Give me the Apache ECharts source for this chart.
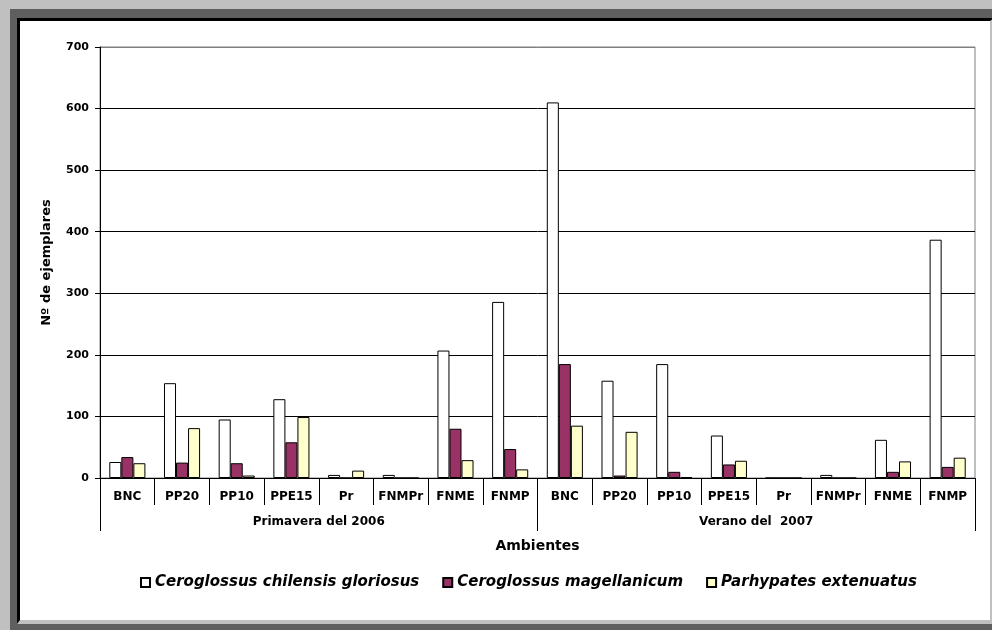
<!DOCTYPE html>
<html>
<head>
<meta charset="utf-8">
<script src="https://cdn.jsdelivr.net/npm/echarts@6/dist/echarts.min.js"></script>
<style>
  html, body { margin: 0; padding: 0; background: #fff; }
  #wrap { position: relative; width: 992px; height: 630px; overflow: hidden; background: #c0c0c0; }
  #outer { position: absolute; left: 10px; top: 9px; width: 1000px; height: 640px; background: #5f5f5f; }
  #inner { position: absolute; left: 17px; top: 18px; width: 970px; height: 599px; background: #fff;
           border-left: 3px solid #000; border-top: 3px solid #000;
           border-right: 4px solid #c0c0c0; border-bottom: 4px solid #c0c0c0; }
  #main { position: absolute; left: 0; top: 0; width: 992px; height: 630px; }
</style>
</head>
<body>
<div id="wrap">
  <div id="outer"></div>
  <div id="inner"></div>
  <div id="main"></div>
</div>
<script>
// sitios por temporada
var ambientes = ['BNC', 'PP20', 'PP10', 'PPE15', 'Pr', 'FNMPr', 'FNME', 'FNMP',
                 'BNC', 'PP20', 'PP10', 'PPE15', 'Pr', 'FNMPr', 'FNME', 'FNMP'];
var temporadas = ['Primavera del 2006', 'Verano del  2007'];
var especies = ['Ceroglossus chilensis gloriosus', 'Ceroglossus magellanicum', 'Parhypates extenuatus'];

var chilensis    = [26, 154, 95, 128, 5, 5, 207, 286, 610, 158, 185, 69, 0, 5, 62, 387];
var magellanicum = [34, 25, 24, 58, 0, 0, 80, 47, 185, 4, 10, 22, 0, 0, 10, 18];
var extenuatus   = [24, 81, 4, 99, 12, 0, 29, 14, 85, 75, 1.5, 28, 0, 0, 27, 33];

var colores = ['#ffffff', '#993366', '#ffffcc'];
var fuente = 'DejaVu Sans';

var myChart = echarts.init(document.getElementById('main'));

function serie(i, data) {
  return {
    name: especies[i],
    type: 'bar',
    xAxisIndex: 0,
    data: data,
    barGap: '0%',
    barCategoryGap: '34%',
    itemStyle: { color: colores[i], borderColor: '#000', borderWidth: 1 },
    animation: false
  };
}

var option = {
  backgroundColor: 'transparent',
  textStyle: { fontFamily: fuente, color: '#000' },
  grid: {
    left: 100, right: 17, top: 47, bottom: 152,
    show: true, borderColor: '#808080', borderWidth: 1
  },
  legend: {
    data: especies,
    left: 135,
    top: 570,
    icon: 'rect',
    itemWidth: 9,
    itemHeight: 9,
    itemGap: 23,
    textStyle: { fontFamily: fuente, fontSize: 15, fontWeight: 'bold', fontStyle: 'italic', color: '#000' }
  },
  xAxis: [
    {
      type: 'category',
      data: ambientes,
      position: 'bottom',
      boundaryGap: true,
      axisLine: { show: true, lineStyle: { color: '#000', width: 1 } },
      axisTick: { show: true, interval: 0, alignWithLabel: false, length: 27, lineStyle: { color: '#000', width: 1 } },
      axisLabel: { interval: 0, margin: 13, fontFamily: fuente, fontSize: 12, fontWeight: 'bold', color: '#000' }
    },
    {
      type: 'category',
      data: temporadas,
      position: 'bottom',
      boundaryGap: true,
      axisLine: { show: false },
      axisTick: { show: true, interval: 0, alignWithLabel: false, length: 53, lineStyle: { color: '#000', width: 1 } },
      axisLabel: { interval: 0, margin: 38, fontFamily: fuente, fontSize: 12, fontWeight: 'bold', color: '#000' },
      name: 'Ambientes',
      nameLocation: 'middle',
      nameGap: 61,
      nameTextStyle: { fontFamily: fuente, fontSize: 14, fontWeight: 'bold', color: '#000' }
    }
  ],
  yAxis: {
    type: 'value',
    min: 0,
    max: 700,
    interval: 100,
    name: 'Nº de ejemplares',
    nameLocation: 'middle',
    nameRotate: 90,
    nameGap: 47,
    nameTextStyle: { fontFamily: fuente, fontSize: 13, fontWeight: 'bold', color: '#000' },
    axisLine: { show: true, lineStyle: { color: '#000' } },
    axisTick: { show: true, length: 5, lineStyle: { color: '#000' } },
    axisLabel: { margin: 11, fontFamily: fuente, fontSize: 11, fontWeight: 'bold', color: '#000' },
    splitLine: { lineStyle: { color: ['#000', '#000', '#000', '#000', '#000', '#000', '#000', '#808080'], width: 1 } }
  },
  series: [
    serie(0, chilensis),
    serie(1, magellanicum),
    serie(2, extenuatus)
  ]
};

myChart.setOption(option);
</script>
</body>
</html>
